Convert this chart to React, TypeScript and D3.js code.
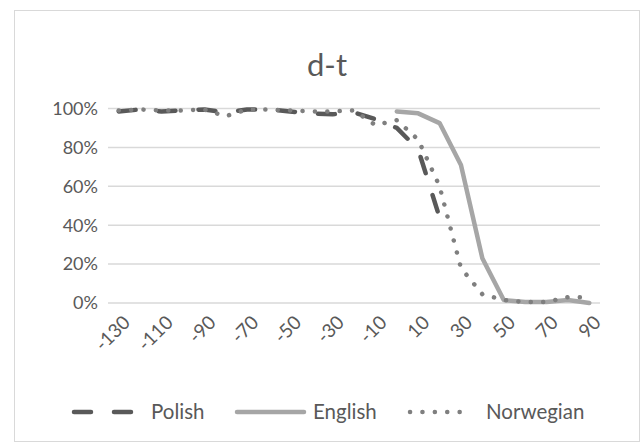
import React from "react";
import * as d3 from "d3";

const categories = [-130,-120,-110,-100,-90,-80,-70,-60,-50,-40,-30,-20,-10,0,10,20,30,40,50,60,70,80,90];
const polish = [98.5,99.5,98.5,99,99.5,98,99.5,99.5,98.5,97.5,97,98,94.5,90,79,44];
const english = [null,null,null,null,null,null,null,null,null,null,null,null,null,98.5,97.5,92.5,71,23,1.5,0.5,0.5,1.5,0];
const norwegian = [99,99.5,99,99,99.5,96,99.5,99.5,99,98.5,98.5,99,91.5,94,84,60,18,4.5,1.5,0.5,0.5,3,3];
const yTicks = [0,20,40,60,80,100];
const xTickLabels = [-130,-110,-90,-70,-50,-30,-10,10,30,50,70,90];
const title = "d-t";

const W = 642, H = 443;
const FONT = "Lato, 'Open Sans', sans-serif";
const TXT = "#595959";

type S = { name: string; values: (number|null)[]; color: string; dash: string; };
const series: S[] = [
  { name: "Polish", values: polish, color: "#595959", dash: "17 23" },
  { name: "English", values: english, color: "#a6a6a6", dash: "" },
  { name: "Norwegian", values: norwegian, color: "#7f7f7f", dash: "0.1 12.3" },
];

export default function App() {
  const x = d3.scaleBand<number>().domain(categories).range([108, 600]).padding(0);
  const cx = (c: number) => (x(c) as number) + x.bandwidth() / 2;
  const y = d3.scaleLinear().domain([0, 100]).range([303, 108.5]);

  const line = d3.line<[number, number | null]>()
    .defined(d => d[1] !== null && d[1] !== undefined)
    .x(d => cx(d[0]))
    .y(d => y(d[1] as number));

  const legendItems = [
    { s: series[0], x0: 74, x1: 138, tx: 151 },
    { s: series[1], x0: 237, x1: 304, tx: 313 },
    { s: series[2], x0: 410, x1: 472, tx: 486 },
  ];
  const ly = 412;

  return (
    <svg width={W} height={H} style={{ position: "absolute", left: 0, top: 0, background: "#fff" }}>
      <rect x={14.5} y={10.5} width={625} height={431} fill="#fff" stroke="#d9d9d9" strokeWidth={1} />
      <text x={327} y={76} textAnchor="middle" fontFamily={FONT} fontSize={31} fill={TXT}>{title}</text>
      {yTicks.map(t => (
        <g key={t}>
          <line x1={108} x2={600} y1={y(t)} y2={y(t)} stroke="#d9d9d9" strokeWidth={1.5} />
          <text x={98} y={y(t)} dy="0.35em" textAnchor="end" fontFamily={FONT} fontSize={18} fill={TXT}>{t}%</text>
        </g>
      ))}
      {xTickLabels.map(c => (
        <text key={c} transform={`translate(${cx(c) + 8},${319}) rotate(-45)`} textAnchor="end" dy="0.35em"
          fontFamily={FONT} fontSize={19} fill={TXT}>{c}</text>
      ))}
      {series.map(s => (
        <path key={s.name}
          d={line(categories.map((c, i) => [c, i < s.values.length ? s.values[i] : null]) as [number, number | null][]) || ""}
          fill="none" stroke={s.color} strokeWidth={4.5} strokeDasharray={s.dash || undefined}
          strokeLinecap="round" strokeLinejoin="round" />
      ))}
      {legendItems.map(({ s, x0, x1, tx }) => (
        <g key={s.name}>
          <line x1={x0} x2={x1} y1={ly} y2={ly} stroke={s.color} strokeWidth={4.5}
            strokeDasharray={s.dash || undefined} strokeLinecap="round" />
          <text x={tx} y={ly} dy="0.35em" fontFamily={FONT} fontSize={20.5} fill={TXT}>{s.name}</text>
        </g>
      ))}
    </svg>
  );
}
